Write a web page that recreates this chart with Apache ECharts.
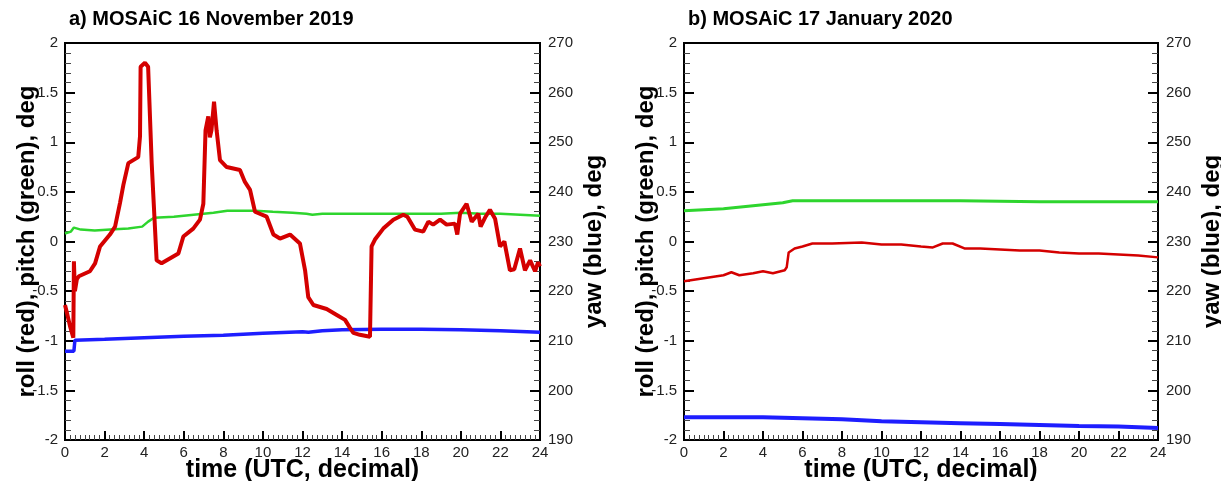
<!DOCTYPE html>
<html>
<head>
<meta charset="utf-8">
<script src="https://cdn.jsdelivr.net/npm/echarts@6/dist/echarts.min.js"></script>
<style>
  html, body { margin: 0; padding: 0; background: #fff; }
  #chart { width: 1221px; height: 481px; }
</style>
</head>
<body>
<div id="chart"></div>
<script>
// panel a) 16 November 2019 : [time, value]
var rollA = [[0,-0.64],[0.1,-0.72],[0.25,-0.85],[0.42,-0.97],[0.45,-0.2],[0.5,-0.5],[0.6,-0.38],[0.7,-0.35],
  [1.26,-0.30],[1.52,-0.22],[1.77,-0.05],[2.27,0.07],[2.53,0.15],[2.78,0.39],[2.95,0.57],[3.2,0.79],[3.7,0.85],
  [3.79,1.06],[3.82,1.76],[4.04,1.80],[4.2,1.76],[4.38,0.79],[4.63,-0.19],[4.88,-0.22],[5.73,-0.12],[5.98,0.05],
  [6.48,0.13],[6.82,0.22],[6.99,0.38],[7.1,1.12],[7.24,1.26],[7.32,1.05],[7.4,1.12],[7.53,1.41],[7.66,1.12],
  [7.83,0.82],[8.17,0.75],[8.84,0.72],[9.09,0.60],[9.35,0.52],[9.6,0.30],[10.19,0.25],[10.53,0.07],[10.86,0.03],
  [11.37,0.07],[11.87,-0.02],[12.13,-0.29],[12.29,-0.56],[12.55,-0.64],[13.22,-0.68],[13.73,-0.74],[14.15,-0.79],
  [14.4,-0.87],[14.57,-0.92],[14.9,-0.94],[15.41,-0.96],[15.49,-0.05],[15.66,0.02],[16.08,0.13],[16.59,0.22],
  [17.09,0.27],[17.3,0.25],[17.68,0.12],[18.1,0.10],[18.36,0.20],[18.6,0.17],[18.95,0.22],[19.28,0.17],[19.7,0.18],
  [19.82,0.07],[19.96,0.28],[20.29,0.38],[20.55,0.20],[20.88,0.28],[21.0,0.15],[21.25,0.25],[21.47,0.32],
  [21.73,0.23],[21.98,-0.05],[22.2,0.0],[22.48,-0.29],[22.7,-0.28],[22.99,-0.07],[23.24,-0.29],[23.5,-0.19],
  [23.75,-0.30],[23.9,-0.21],[24,-0.25]];
var pitchA = [[0,0.08],[0.3,0.1],[0.45,0.14],[0.8,0.12],[1.5,0.11],[2.3,0.12],[3.2,0.13],[3.9,0.15],[4.2,0.2],
  [4.5,0.24],[5.5,0.25],[6.5,0.27],[7.5,0.29],[8.2,0.31],[9.0,0.31],[9.6,0.31],[10.5,0.30],[11.5,0.29],[12.2,0.28],
  [12.5,0.27],[13,0.28],[14,0.28],[15,0.28],[16,0.28],[17,0.28],[18,0.28],[19,0.28],[20,0.29],[21,0.28],[22,0.28],
  [23,0.27],[24,0.26]];
var yawA = [[0,207.9],[0.45,207.9],[0.5,210.1],[2,210.3],[4,210.6],[6,210.9],[8,211.1],[10,211.5],[12,211.8],
  [12.3,211.7],[13,212.0],[14,212.2],[16,212.3],[18,212.3],[20,212.2],[22,212.0],[24,211.7]];

// panel b) 17 January 2020
var rollB = [[0,-0.40],[1,-0.37],[2,-0.34],[2.4,-0.31],[2.8,-0.34],[3.5,-0.32],[4.0,-0.30],[4.5,-0.32],[5.1,-0.29],
  [5.2,-0.26],[5.3,-0.11],[5.6,-0.07],[6.0,-0.05],[6.5,-0.02],[7.5,-0.02],[9,-0.01],[10,-0.03],[11,-0.03],[12,-0.05],
  [12.6,-0.06],[13.1,-0.02],[13.6,-0.02],[14.2,-0.07],[15,-0.07],[16,-0.08],[17,-0.09],[18,-0.09],[19,-0.11],
  [20,-0.12],[21,-0.12],[22,-0.13],[23,-0.14],[24,-0.16]];
var pitchB = [[0,0.31],[1,0.32],[2,0.33],[3,0.35],[4,0.37],[5,0.39],[5.5,0.41],[7,0.41],[10,0.41],[14,0.41],
  [18,0.40],[21,0.40],[24,0.40]];
var yawB = [[0,194.6],[4,194.6],[6,194.4],[8,194.2],[10,193.8],[12,193.6],[14,193.4],[16,193.2],[18,193.0],
  [20,192.8],[22,192.7],[24,192.4]];

var titles = ['a) MOSAiC 16 November 2019', 'b) MOSAiC 17 January 2020'];

var RED = '#d40000', GREEN = '#2ed52e', BLUE = '#1e1eff';
var FONT = 'Liberation Sans, Arial, sans-serif';

function xAxisFor(i) {
    return {
        type: 'value', gridIndex: i, min: 0, max: 24, interval: 2,
        name: 'time (UTC, decimal)', nameLocation: 'middle', nameGap: 18, nameMoveOverlap: false,
        nameTextStyle: { fontFamily: FONT, fontSize: 25, fontWeight: 'bold', color: '#000' },
        axisLine: { show: true, onZero: false, lineStyle: { color: '#000', width: 2 } },
        axisTick: { inside: true, length: 9, lineStyle: { color: '#000', width: 2 } },
        minorTick: { show: true, splitNumber: 8, length: 5, lineStyle: { color: '#444', width: 1 } },
        axisLabel: { fontFamily: FONT, fontSize: 15, color: '#222', margin: 5 },
        splitLine: { show: false }
    };
}

function leftAxisFor(i) {
    return {
        type: 'value', gridIndex: i, min: -2, max: 2, interval: 0.5, position: 'left',
        name: 'roll (red), pitch (green), deg', nameLocation: 'middle', nameGap: 26, nameRotate: 90,
        nameMoveOverlap: false,
        nameTextStyle: { fontFamily: FONT, fontSize: 24, fontWeight: 'bold', color: '#000' },
        axisLine: { show: true, onZero: false, lineStyle: { color: '#000', width: 2 } },
        axisTick: { inside: true, length: 10, lineStyle: { color: '#000', width: 2 } },
        minorTick: { show: true, splitNumber: 5, length: 6, lineStyle: { color: '#444', width: 1 } },
        axisLabel: { fontFamily: FONT, fontSize: 15, color: '#222', margin: 7 },
        splitLine: { show: false }
    };
}

function rightAxisFor(i) {
    return {
        type: 'value', gridIndex: i, min: 190, max: 270, interval: 10, position: 'right',
        name: 'yaw (blue), deg', nameLocation: 'middle', nameGap: 42, nameRotate: 90,
        nameMoveOverlap: false,
        nameTextStyle: { fontFamily: FONT, fontSize: 24, fontWeight: 'bold', color: '#000' },
        axisLine: { show: true, onZero: false, lineStyle: { color: '#000', width: 2 } },
        axisTick: { inside: true, length: 10, lineStyle: { color: '#000', width: 2 } },
        minorTick: { show: true, splitNumber: 5, length: 6, lineStyle: { color: '#444', width: 1 } },
        axisLabel: { fontFamily: FONT, fontSize: 15, color: '#222', margin: 8 },
        splitLine: { show: false }
    };
}

function line(data, xi, yi, color, width) {
    return {
        type: 'line', data: data, xAxisIndex: xi, yAxisIndex: yi,
        showSymbol: false, symbol: 'none', silent: true,
        lineStyle: { color: color, width: width }
    };
}

var myChart = echarts.init(document.getElementById('chart'));
var option = {
    animation: false,
    backgroundColor: '#fff',
    title: [
        { text: titles[0], left: 64, top: 4, textStyle: { fontFamily: FONT, fontSize: 20, fontWeight: 'bold', color: '#000' } },
        { text: titles[1], left: 683, top: 4, textStyle: { fontFamily: FONT, fontSize: 20, fontWeight: 'bold', color: '#000' } }
    ],
    grid: [
        { left: 65, top: 43, width: 475, height: 397, outerBoundsMode: 'none',
          show: true, borderColor: '#000', borderWidth: 2, backgroundColor: 'transparent' },
        { left: 684, top: 43, width: 474, height: 397, outerBoundsMode: 'none',
          show: true, borderColor: '#000', borderWidth: 2, backgroundColor: 'transparent' }
    ],
    xAxis: [xAxisFor(0), xAxisFor(1)],
    yAxis: [leftAxisFor(0), rightAxisFor(0), leftAxisFor(1), rightAxisFor(1)],
    series: [
        line(yawA, 0, 1, BLUE, 3.5),
        line(pitchA, 0, 0, GREEN, 2.5),
        line(rollA, 0, 0, RED, 4),
        line(yawB, 1, 3, BLUE, 4),
        line(pitchB, 1, 2, GREEN, 3),
        line(rollB, 1, 2, RED, 2.5)
    ]
};

myChart.setOption(option);
</script>
</body>
</html>
